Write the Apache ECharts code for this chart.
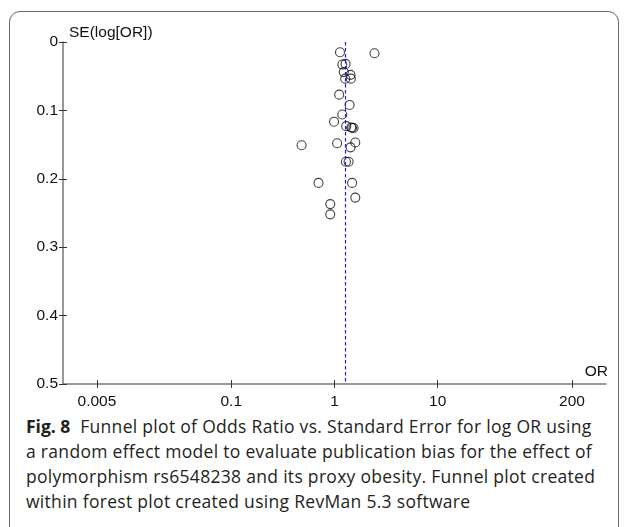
<!DOCTYPE html>
<html>
<head>
<meta charset="utf-8">
<script src="https://cdn.jsdelivr.net/npm/echarts@6/dist/echarts.min.js"></script>
<style>
  html, body { margin: 0; padding: 0; background: #fff; }
  #wrap { position: relative; width: 627px; height: 527px; overflow: hidden; }
  #frame {
    position: absolute; left: 9px; top: 11px; width: 610px; height: 530px;
    border: 1.5px solid #666; border-radius: 11px; box-sizing: border-box;
  }
  #chart { position: absolute; left: 0; top: 0; width: 627px; height: 410px; }
  #caption {
    position: absolute; left: 26px; top: 414px; margin: 0;
    font-family: "Open Sans", sans-serif; font-size: 17.5px; line-height: 25px;
    letter-spacing: 0.3px; color: #231f20; white-space: nowrap;
  }
  #caption b { font-weight: 700; margin-right: 5px; letter-spacing: 0; }
</style>
</head>
<body>
<div id="wrap">
  <div id="frame"></div>
  <div id="chart"></div>
  <p id="caption"><b>Fig. 8</b> Funnel plot of Odds Ratio vs. Standard Error for log OR using<br>a random effect model to evaluate publication bias for the effect of<br>polymorphism rs6548238 and its proxy obesity. Funnel plot created<br>within forest plot created using RevMan 5.3 software</p>
</div>
<script>
// odds ratio and SE(log[OR]) per study
const orValues = [1.13, 2.44, 1.19, 1.28, 1.23, 1.43, 1.27, 1.44, 1.11, 1.40,
                  1.19, 0.99, 1.30, 1.45, 1.48, 1.53, 0.48, 1.06, 1.59, 1.43,
                  1.29, 1.37, 0.70, 1.48, 1.59, 0.91, 0.91];
const seValues = [0.015, 0.0165, 0.033, 0.032, 0.044, 0.048, 0.0536, 0.0536, 0.077, 0.092,
                  0.106, 0.1165, 0.123, 0.125, 0.1254, 0.1257, 0.151, 0.148, 0.147, 0.154,
                  0.175, 0.175, 0.206, 0.206, 0.2275, 0.237, 0.252];
const pooledOR = 1.26;
const xTickValues = [0.005, 0.1, 1, 10, 200];
const xTickLabels = ['0.005', '0.1', '1', '10', '200'];

const xTickPos = xTickValues.map(v => Math.log10(v));
const points = orValues.map((v, i) => [Math.log10(v), seValues[i]]);

const fontFam = '"Liberation Sans", Arial, sans-serif';
const axisColor = '#777';
const tickColor = '#333';

const chart = echarts.init(document.getElementById('chart'));
chart.setOption({
  animation: false,
  grid: { left: 63, right: 21, top: 42, bottom: 23 },
  xAxis: [
    {
      type: 'value', min: -2.63, max: 2.63,
      name: 'OR', nameLocation: 'end', nameGap: 2,
      nameTextStyle: { fontFamily: fontFam, fontSize: 15.5, color: '#111', align: 'right', verticalAlign: 'bottom', padding: [0, 0, 4, 0] },
      axisLine: { onZero: false, lineStyle: { color: axisColor, width: 1.5 } },
      axisTick: { show: true, length: 4, lineStyle: { color: tickColor }, customValues: xTickPos },
      axisLabel: {
        fontFamily: fontFam, fontSize: 15.5, color: '#111', margin: 10,
        customValues: xTickPos,
        formatter: v => {
          const i = xTickPos.findIndex(p => Math.abs(p - v) < 1e-6);
          return i >= 0 ? xTickLabels[i] : '';
        }
      },
      splitLine: { show: false }
    },
    {
      type: 'value', min: -2.63, max: 2.63, position: 'bottom',
      axisLine: { show: false, onZero: false },
      axisTick: { show: true, inside: true, length: 4, lineStyle: { color: tickColor }, customValues: xTickPos },
      axisLabel: { show: false },
      splitLine: { show: false }
    }
  ],
  yAxis: [
    {
      type: 'value', inverse: true, min: 0, max: 0.5, interval: 0.1,
      name: 'SE(log[OR])', nameLocation: 'start', nameGap: 1,
      nameTextStyle: { fontFamily: fontFam, fontSize: 15.5, color: '#111', align: 'left', verticalAlign: 'bottom', padding: [0, 0, 0, 6] },
      axisLine: { onZero: false, lineStyle: { color: axisColor, width: 1.5 } },
      axisTick: { show: true, length: 4, lineStyle: { color: tickColor } },
      axisLabel: {
        fontFamily: fontFam, fontSize: 15.5, color: '#111', margin: 5,
        formatter: v => String(parseFloat(v.toFixed(2)))
      },
      splitLine: { show: false }
    },
    {
      type: 'value', inverse: true, min: 0, max: 0.5, interval: 0.1, position: 'left',
      axisLine: { show: false, onZero: false },
      axisTick: { show: true, inside: true, length: 4, lineStyle: { color: tickColor } },
      axisLabel: { show: false },
      splitLine: { show: false }
    }
  ],
  series: [
    {
      type: 'scatter',
      xAxisIndex: 0, yAxisIndex: 0,
      data: points,
      symbol: 'circle',
      symbolSize: 9,
      itemStyle: { color: 'rgba(0,0,0,0)', borderColor: '#111', borderWidth: 1.1 },
      markLine: {
        silent: true,
        symbol: 'none',
        label: { show: false },
        lineStyle: { color: '#1f1fc8', type: [3.5, 2.5], width: 1.2 },
        data: [{ xAxis: Math.log10(pooledOR) }]
      }
    }
  ]
});
</script>
</body>
</html>
